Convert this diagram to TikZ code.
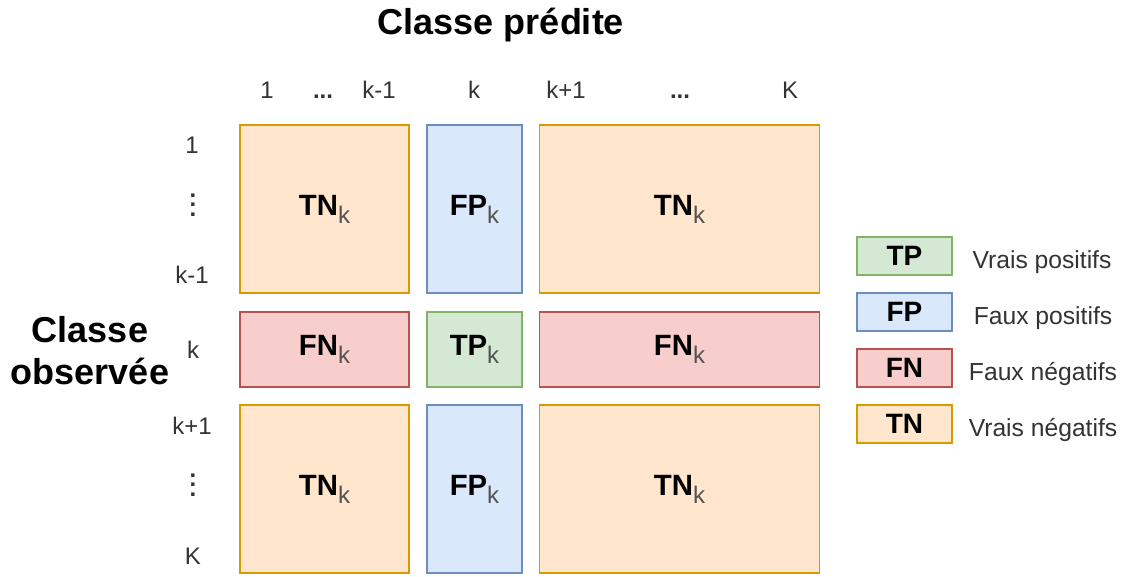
\documentclass[tikz,border=0pt]{standalone}
\usepackage{fontspec}
\setmainfont{Liberation Sans}
\usepackage{xcolor}
\usetikzlibrary{positioning}

\definecolor{tnfill}{HTML}{FFE6CC}
\definecolor{tndraw}{HTML}{D79B00}
\definecolor{fpfill}{HTML}{DAE8FC}
\definecolor{fpdraw}{HTML}{6C8EBF}
\definecolor{fnfill}{HTML}{F8CECC}
\definecolor{fndraw}{HTML}{B85450}
\definecolor{tpfill}{HTML}{D5E8D4}
\definecolor{tpdraw}{HTML}{82B366}
\definecolor{labgray}{HTML}{333333}

\newcommand{\cellsub}[1]{\textbf{#1}\raisebox{-6pt}{\fontsize{18}{18}\selectfont\color{labgray!85}k}}
\newcommand{\coldots}{\vbox{\baselineskip=7pt\lineskiplimit=-10pt\hbox{\textbf{.}}\hbox{\textbf{.}}\hbox{\textbf{.}}}}

\begin{document}
\begin{tikzpicture}[x=0.75pt, y=-0.75pt,
    cell/.style={rectangle, draw, line width=0.9pt, inner sep=0pt, font=\fontsize{22}{22}\selectfont},
    tncell/.style={cell, fill=tnfill, draw=tndraw},
    fpcell/.style={cell, fill=fpfill, draw=fpdraw},
    fncell/.style={cell, fill=fnfill, draw=fndraw},
    tpcell/.style={cell, fill=tpfill, draw=tpdraw},
    legcell/.style={font=\fontsize{21}{21}\selectfont, minimum width=95*0.75pt, minimum height=38*0.75pt},
    axlabel/.style={text=labgray, font=\fontsize{18}{18}\selectfont},
    legtext/.style={text=labgray, font=\fontsize{18.5}{18.5}\selectfont},
    bigtitle/.style={font=\fontsize{27}{31.5}\selectfont\bfseries, align=center}]

    \useasboundingbox (0,0) rectangle (1130,577);

    % titres
    \node (pred) [bigtitle] at (501,25) {Classe prédite};
    \node (obs) [bigtitle] at (90,351) {Classe\\observée};

    % etiquettes des colonnes
    \node (c1) [axlabel] at (267,90) {1};
    \node (c2) [axlabel] at (323,90) {\textbf{...}\vphantom{k}};
    \node (c3) [axlabel] at (379,90) {k-1};
    \node (c4) [axlabel] at (474,90) {k};
    \node (c5) [axlabel] at (566,90) {k+1};
    \node (c6) [axlabel] at (680,90) {\textbf{...}\vphantom{k}};
    \node (c7) [axlabel] at (790,90) {K};

    % etiquettes des lignes
    \node (r1) [axlabel] at (192,145) {1};
    \node (r2) [axlabel, inner sep=0pt] at (193,205) {\coldots};
    \node (r3) [axlabel] at (192,275) {k-1};
    \node (r4) [axlabel] at (193,350) {k};
    \node (r5) [axlabel] at (192,426) {k+1};
    \node (r6) [axlabel, inner sep=0pt] at (193,485) {\coldots};
    \node (r7) [axlabel] at (193,556) {K};

    % matrice
    \node (tnA) [tncell, minimum width=169*0.75pt, minimum height=168*0.75pt] at (324.5,209) {\cellsub{TN}};
    \node (fpA) [fpcell, minimum width=95*0.75pt, minimum height=168*0.75pt] at (474.5,209) {\cellsub{FP}};
    \node (tnB) [tncell, minimum width=280*0.75pt, minimum height=168*0.75pt] at (679.5,209) {\cellsub{TN}};

    \node (fnA) [fncell, minimum width=169*0.75pt, minimum height=75*0.75pt] at (324.5,349.5) {\cellsub{FN}};
    \node (tpk) [tpcell, minimum width=95*0.75pt, minimum height=75*0.75pt] at (474.5,349.5) {\cellsub{TP}};
    \node (fnB) [fncell, minimum width=280*0.75pt, minimum height=75*0.75pt] at (679.5,349.5) {\cellsub{FN}};

    \node (tnC) [tncell, minimum width=169*0.75pt, minimum height=168*0.75pt] at (324.5,489) {\cellsub{TN}};
    \node (fpB) [fpcell, minimum width=95*0.75pt, minimum height=168*0.75pt] at (474.5,489) {\cellsub{FP}};
    \node (tnD) [tncell, minimum width=280*0.75pt, minimum height=168*0.75pt] at (679.5,489) {\cellsub{TN}};

    % legende
    \node (legTP) [tpcell, legcell] at (904.5,256) {\textbf{TP}};
    \node (legFP) [fpcell, legcell] at (904.5,312) {\textbf{FP}};
    \node (legFN) [fncell, legcell] at (904.5,368) {\textbf{FN}};
    \node (legTN) [tncell, legcell] at (904.5,424) {\textbf{TN}};

    \node (txtTP) [legtext] at (1042,262) {Vrais positifs};
    \node (txtFP) [legtext] at (1043,318) {Faux positifs};
    \node (txtFN) [legtext] at (1043,374) {Faux négatifs};
    \node (txtTN) [legtext] at (1043,430) {Vrais négatifs};
\end{tikzpicture}
\end{document}
